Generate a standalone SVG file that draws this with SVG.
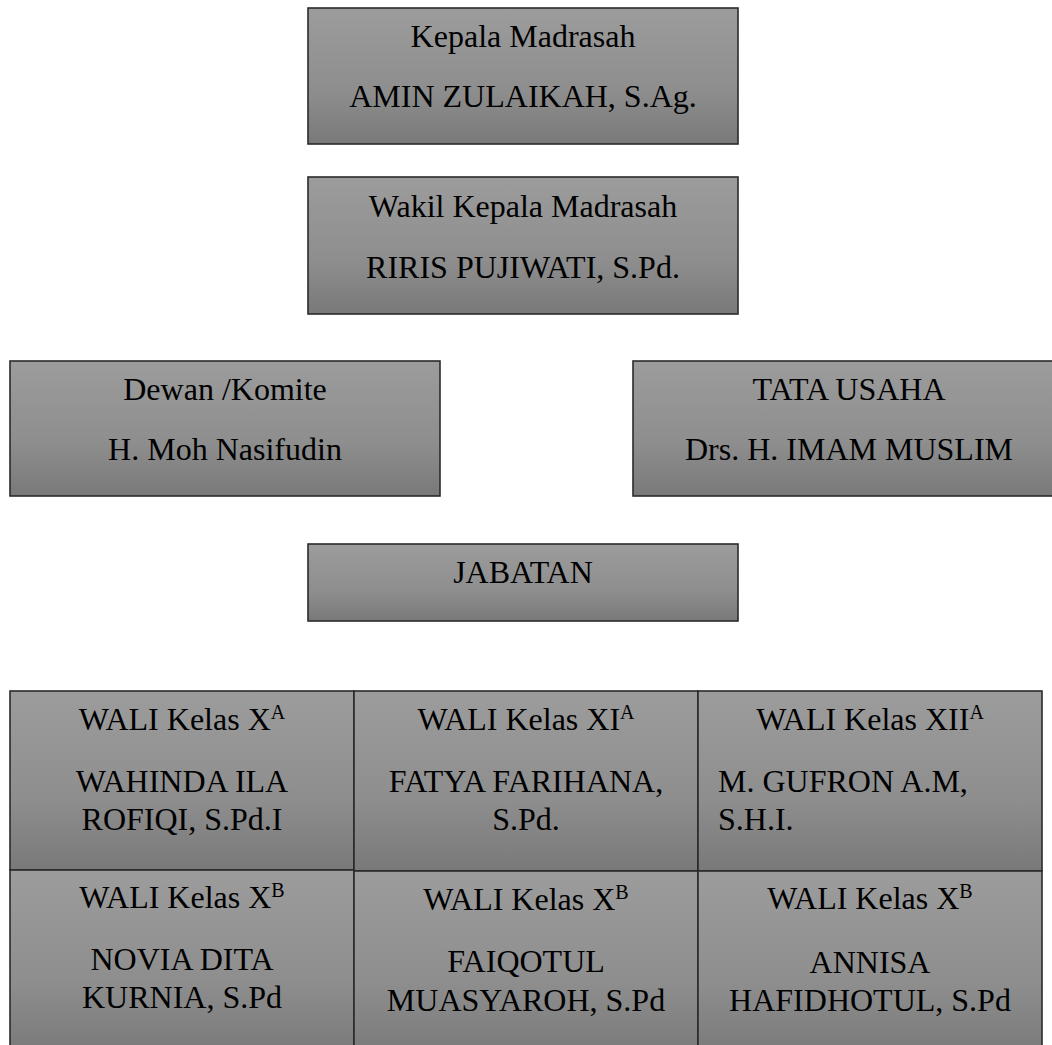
<svg xmlns="http://www.w3.org/2000/svg" width="1052" height="1045" viewBox="0 0 1052 1045">
<defs>
<linearGradient id="g" x1="0" y1="0" x2="0" y2="1">
<stop offset="0" stop-color="#9c9c9c"/>
<stop offset="0.6" stop-color="#8e8e8e"/>
<stop offset="1" stop-color="#797979"/>
</linearGradient>
<style>
.box{fill:url(#g);stroke:#2b2b2b;stroke-width:1.6}
.c{text-anchor:middle}
.sup{font-size:20px}
</style>
</defs>
<rect width="1052" height="1045" fill="#fff"/>
<g font-family="Liberation Serif, Times New Roman, serif" font-size="32" fill="#000">
<g id="kepala">
<rect class="box" x="308" y="8" width="430" height="136"/>
<text class="c" x="523" y="47">Kepala Madrasah</text>
<text class="c" x="523" y="107">AMIN ZULAIKAH, S.Ag.</text>
</g>
<g id="wakil">
<rect class="box" x="308" y="177" width="430" height="137"/>
<text class="c" x="523" y="217">Wakil Kepala Madrasah</text>
<text class="c" x="523" y="278">RIRIS PUJIWATI, S.Pd.</text>
</g>
<g id="dewan">
<rect class="box" x="10" y="361" width="430" height="135"/>
<text class="c" x="225" y="400">Dewan /Komite</text>
<text class="c" x="225" y="460">H. Moh Nasifudin</text>
</g>
<g id="tatausaha">
<rect class="box" x="633" y="361" width="431" height="135"/>
<text class="c" x="849" y="400">TATA USAHA</text>
<text class="c" x="849" y="460">Drs. H. IMAM MUSLIM</text>
</g>
<g id="jabatan">
<rect class="box" x="308" y="544" width="430" height="77"/>
<text class="c" x="523" y="583">JABATAN</text>
</g>
<g id="wali-xa">
<rect class="box" x="10" y="691" width="344" height="179"/>
<text class="c" x="182" y="730">WALI Kelas X<tspan class="sup" dy="-11">A</tspan></text>
<text class="c" x="182" y="792">WAHINDA ILA</text>
<text class="c" x="182" y="830">ROFIQI, S.Pd.I</text>
</g>
<g id="wali-xia">
<rect class="box" x="354" y="691" width="344" height="180"/>
<text class="c" x="526" y="730">WALI Kelas XI<tspan class="sup" dy="-11">A</tspan></text>
<text class="c" x="526" y="792">FATYA FARIHANA,</text>
<text class="c" x="526" y="830">S.Pd.</text>
</g>
<g id="wali-xiia">
<rect class="box" x="698" y="691" width="344" height="180"/>
<text class="c" x="870" y="730">WALI Kelas XII<tspan class="sup" dy="-11">A</tspan></text>
<text x="718" y="792">M. GUFRON A.M,</text>
<text x="718" y="830">S.H.I.</text>
</g>
<g id="wali-xb-1">
<rect class="box" x="10" y="870" width="344" height="185"/>
<text class="c" x="182" y="908">WALI Kelas X<tspan class="sup" dy="-11">B</tspan></text>
<text class="c" x="182" y="970">NOVIA DITA</text>
<text class="c" x="182" y="1008">KURNIA, S.Pd</text>
</g>
<g id="wali-xb-2">
<rect class="box" x="354" y="871" width="344" height="185"/>
<text class="c" x="526" y="910">WALI Kelas X<tspan class="sup" dy="-11">B</tspan></text>
<text class="c" x="526" y="972">FAIQOTUL</text>
<text class="c" x="526" y="1011">MUASYAROH, S.Pd</text>
</g>
<g id="wali-xb-3">
<rect class="box" x="698" y="871" width="344" height="185"/>
<text class="c" x="870" y="909">WALI Kelas X<tspan class="sup" dy="-11">B</tspan></text>
<text class="c" x="870" y="973">ANNISA</text>
<text class="c" x="870" y="1011">HAFIDHOTUL, S.Pd</text>
</g>
</g>
<g id="connectors"></g>
</svg>
